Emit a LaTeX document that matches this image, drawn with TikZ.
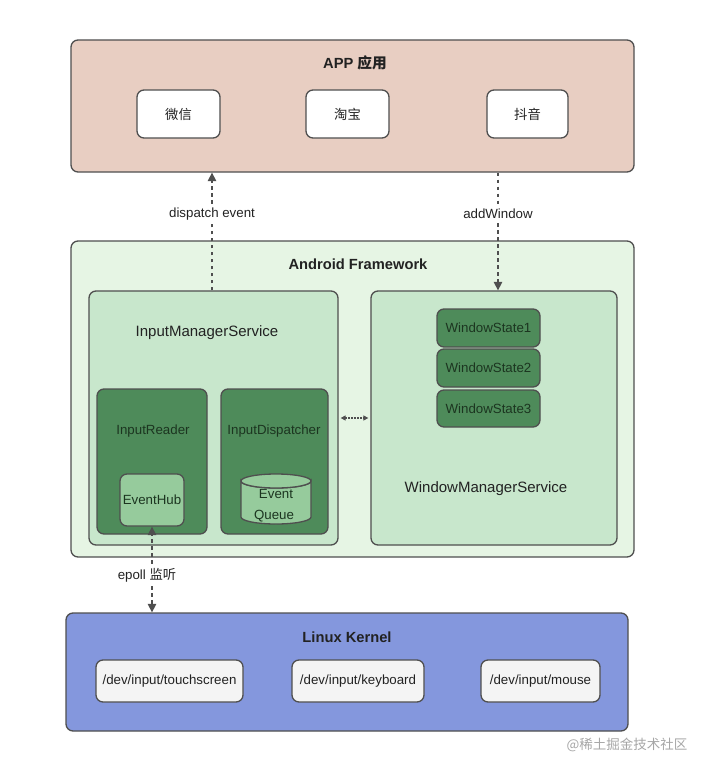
\documentclass[tikz,border=0pt]{standalone}
\usepackage{fontspec}
\setmainfont{Liberation Sans}
\newfontfamily\cjk{Noto Sans CJK SC}
\usetikzlibrary{shapes.geometric,arrows.meta}
\definecolor{bd}{HTML}{4F4F4F}
\definecolor{appfill}{HTML}{E8CEC2}
\definecolor{fwfill}{HTML}{E6F5E4}
\definecolor{imsfill}{HTML}{C8E7CC}
\definecolor{dkgreen}{HTML}{4E8B5A}
\definecolor{ehfill}{HTML}{96CB9C}
\definecolor{lxfill}{HTML}{8497DD}
\definecolor{devfill}{HTML}{F4F4F4}
\definecolor{txt}{HTML}{222222}
\definecolor{dtxt}{HTML}{1C3520}
\begin{document}
\begin{tikzpicture}[x=1pt,y=-1pt,
  box/.style={draw=bd,line width=1.3pt,rounded corners=7pt,inner sep=0pt},
  lbl/.style={font=\fontsize{13.3}{15}\selectfont,text=txt,inner sep=1pt},
  big/.style={font=\fontsize{15}{17}\selectfont,text=txt,inner sep=1pt},
  title/.style={font=\fontsize{14.7}{17}\selectfont\bfseries,text=txt},
  dashline/.style={draw=bd,line width=1.4pt,dash pattern=on 3.5pt off 3.5pt},
  tip/.style={-{Triangle[width=8.5pt,length=8.5pt]}}
]
\useasboundingbox (0,0) rectangle (709,773);

% APP layer
\node[box,fill=appfill,minimum width=563pt,minimum height=132pt] (app) at (352.5,106) {};
\node[title] (apptitle) at (355,63) {APP {\cjk 应用}};
\node[box,fill=white,minimum width=83pt,minimum height=48pt,lbl] (wx) at (178.5,114) {\cjk 微信};
\node[box,fill=white,minimum width=83pt,minimum height=48pt,lbl] (tb) at (347.5,114) {\cjk 淘宝};
\node[box,fill=white,minimum width=81pt,minimum height=48pt,lbl] (dy) at (527.5,114) {\cjk 抖音};

% Android framework
\node[box,fill=fwfill,minimum width=563pt,minimum height=316pt] (fw) at (352.5,399) {};
\node[title] (fwtitle) at (358,264) {Android Framework};

\node[box,fill=imsfill,minimum width=249pt,minimum height=254pt] (ims) at (213.5,418) {};
\node[big] (imst) at (207,333) {InputManagerService};

\node[box,fill=dkgreen,minimum width=110pt,minimum height=145pt] (ir) at (152,461.5) {};
\node[lbl,text=dtxt] (irt) at (153,431) {InputReader};
\node[box,fill=ehfill,minimum width=64pt,minimum height=52pt,lbl,text=dtxt] (eh) at (152,500) {EventHub};

\node[box,fill=dkgreen,minimum width=107pt,minimum height=145pt] (id) at (274.5,461.5) {};
\node[lbl,text=dtxt] (idt) at (274,431) {InputDispatcher};
% event queue cylinder
\coordinate (eq) at (276,499);
\path[draw=bd,line width=1.3pt,fill=ehfill]
  (241,481) -- (241,517) arc[start angle=180,end angle=360,x radius=35pt,y radius=7pt]
  -- (311,481) arc[start angle=0,end angle=-180,x radius=35pt,y radius=7pt] -- cycle;
\draw[bd,line width=1.3pt,fill=ehfill] (276,481) ellipse[x radius=35pt,y radius=7pt];
\node[lbl,text=dtxt] (eqt1) at (276,494) {Event};
\node[lbl,text=dtxt] (eqt2) at (274,516) {Queue};

\node[box,fill=imsfill,minimum width=246pt,minimum height=254pt] (wms) at (494,418) {};
\node[big] (wmst) at (486,489) {WindowManagerService};
\node[box,fill=dkgreen,minimum width=103pt,minimum height=38pt,lbl,text=dtxt] (ws1) at (488.5,328) {WindowState1};
\node[box,fill=dkgreen,minimum width=103pt,minimum height=38pt,lbl,text=dtxt] (ws2) at (488.5,368) {WindowState2};
\node[box,fill=dkgreen,minimum width=103pt,minimum height=37pt,lbl,text=dtxt] (ws3) at (488.5,408.5) {WindowState3};

% Linux kernel
\node[box,fill=lxfill,minimum width=562pt,minimum height=118pt] (lx) at (347,672) {};
\node[title] (lxtitle) at (347,637) {Linux Kernel};
\node[box,fill=devfill,minimum width=147pt,minimum height=42pt,lbl] (ts) at (169.5,681) {/dev/input/touchscreen};
\node[box,fill=devfill,minimum width=132pt,minimum height=42pt,lbl] (kb) at (358,681) {/dev/input/keyboard};
\node[box,fill=devfill,minimum width=119pt,minimum height=42pt,lbl] (ms) at (540.5,681) {/dev/input/mouse};

% connectors
\node[lbl,inner sep=4pt] (de) at (212,214) {dispatch event};
\draw[dashline] (de |- ims.north) -- (de.south);
\draw[dashline,tip] (de.north) -- (de |- app.south);

\node[lbl,inner sep=4pt] (aw) at (498,214) {addWindow};
\draw[dashline] (aw |- app.south) -- (aw.north);
\draw[dashline,tip] (aw.south) -- (aw |- wms.north);

\draw[draw=bd,line width=1.2pt,dash pattern=on 1.5pt off 1.5pt,
      {Triangle[width=5pt,length=5pt]}-{Triangle[width=5pt,length=5pt]},
      shorten <=2pt,shorten >=2pt] (ims.east) -- (wms.west);

\node[lbl,inner sep=4pt] (ep) at (147,575) {epoll {\cjk 监听}};
\draw[dashline,tip] (ep.north -| eh.south) -- (eh.south);
\draw[dashline,tip] (ep.south -| eh.south) -- (eh.south |- lx.north);

\node[font=\fontsize{13.5}{15}\selectfont\cjk,text=black!35] (wm) at (627,745) {@稀土掘金技术社区};
\end{tikzpicture}
\end{document}
